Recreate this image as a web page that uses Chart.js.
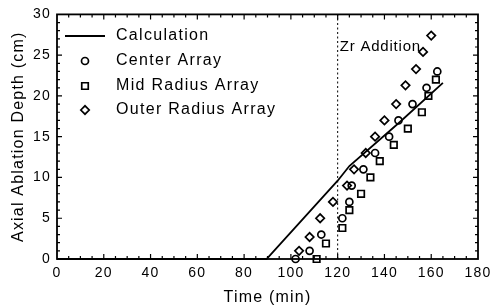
<!DOCTYPE html>
<html>
<head>
<meta charset="utf-8">
<script src="https://cdn.jsdelivr.net/npm/chart.js@4.4.1/dist/chart.umd.min.js"></script>
<style>
  html, body { margin: 0; padding: 0; background: #fff; }
  #wrap { width: 500px; height: 308px; }
</style>
</head>
<body>
<div id="wrap"><canvas id="chart"></canvas></div>
<script>
// Time (min) / depth (cm)
const calcTime = [0, 89.6, 120, 125, 146.6, 165];
const calcDepth = [0, 0, 9.6, 11.4, 16.8, 21.6];

const centerTime = [102, 108, 113, 122, 125, 126, 131, 136, 142, 146, 152, 158, 162.6];
const centerDepth = [0, 1, 3, 5, 7, 9, 11, 13, 15, 17, 19, 21, 23];

const midTime = [111, 115, 122, 125, 130, 134, 138, 144, 150, 156, 158.8, 162];
const midDepth = [0, 1.9, 3.8, 6, 8, 10, 12, 14, 16, 18, 20, 22];

const outerTime = [103.5, 108, 112.5, 118, 124, 127, 132, 136, 140, 145, 149, 153.5, 156.5, 160];
const outerDepth = [1, 2.7, 5, 7, 9, 11, 13, 15, 17, 19, 21.3, 23.3, 25.4, 27.4];

const xTicks = [0, 20, 40, 60, 80, 100, 120, 140, 160, 180];
const yTicks = [0, 5, 10, 15, 20, 25, 30];
const zrTime = 120;

const legendLabels = ['Calculation', 'Center Array', 'Mid Radius Array', 'Outer Radius Array'];
const zrLabel = 'Zr Addition';

const pts = (xs, ys) => xs.map((x, i) => ({ x: x, y: ys[i] }));

const FONT = '"Liberation Sans", Arial, sans-serif';

// draw a marker like chart.js does
function marker(ctx, style, r, x, y) {
  ctx.beginPath();
  if (style === 'circle') {
    ctx.arc(x, y, r, 0, Math.PI * 2);
  } else if (style === 'rect') {
    const s = Math.SQRT1_2 * r;
    ctx.rect(x - s, y - s, 2 * s, 2 * s);
  } else {
    ctx.moveTo(x - r, y);
    ctx.lineTo(x, y - r);
    ctx.lineTo(x + r, y);
    ctx.lineTo(x, y + r);
    ctx.closePath();
  }
  ctx.stroke();
}

const framePlugin = {
  id: 'frame',
  beforeDraw(chart) {
    chart.ctx.letterSpacing = '1.2px';
  },
  beforeDatasetsDraw(chart) {
    const ctx = chart.ctx;
    const a = chart.chartArea;
    const xs = chart.scales.x;
    ctx.save();
    ctx.strokeStyle = '#000';
    ctx.lineWidth = 1;
    ctx.setLineDash([2, 2.5]);
    const px = xs.getPixelForValue(zrTime);
    ctx.beginPath();
    ctx.moveTo(px, a.bottom);
    ctx.lineTo(px, a.top);
    ctx.stroke();
    ctx.restore();
  },
  afterDraw(chart) {
    const ctx = chart.ctx;
    const a = chart.chartArea;
    const xs = chart.scales.x, ys = chart.scales.y;
    ctx.save();
    ctx.strokeStyle = '#000';
    ctx.lineWidth = 1.8;
    ctx.strokeRect(a.left, a.top, a.right - a.left, a.bottom - a.top);

    // inward ticks on all four sides
    ctx.lineWidth = 1.2;
    ctx.beginPath();
    for (let v = 5; v < 180; v += 5) {
      const len = v % 20 === 0 ? 5 : 3;
      const p = xs.getPixelForValue(v);
      ctx.moveTo(p, a.bottom); ctx.lineTo(p, a.bottom - len);
      ctx.moveTo(p, a.top); ctx.lineTo(p, a.top + len);
    }
    for (let v = 1; v < 30; v += 1) {
      const len = v % 5 === 0 ? 5 : 3;
      const p = ys.getPixelForValue(v);
      ctx.moveTo(a.left, p); ctx.lineTo(a.left + len, p);
      ctx.moveTo(a.right, p); ctx.lineTo(a.right - len, p);
    }
    ctx.stroke();

    // legend
    ctx.fillStyle = '#000';
    ctx.textBaseline = 'middle';
    ctx.textAlign = 'left';
    ctx.font = '16px ' + FONT;
    ctx.letterSpacing = '1.3px';
    const rows = [36, 61, 86, 110];
    ctx.lineWidth = 1.8;
    ctx.beginPath();
    ctx.moveTo(65, rows[0]);
    ctx.lineTo(105, rows[0]);
    ctx.stroke();
    ctx.lineWidth = 1.7;
    marker(ctx, 'circle', 3.5, 85, rows[1]);
    marker(ctx, 'rect', 4.6, 85, rows[2]);
    marker(ctx, 'rectRot', 4.2, 85, rows[3]);
    legendLabels.forEach((t, i) => ctx.fillText(t, 116, rows[i]));

    ctx.font = '15px ' + FONT;
    ctx.letterSpacing = '0.8px';
    ctx.fillText(zrLabel, xs.getPixelForValue(zrTime) + 2, 47);
    ctx.restore();
  }
};

new Chart(document.getElementById('chart'), {
  type: 'scatter',
  data: {
    datasets: [
      {
        label: legendLabels[0],
        data: pts(calcTime, calcDepth),
        showLine: true,
        borderColor: '#000',
        borderWidth: 1.8,
        pointRadius: 0,
        clip: false
      },
      {
        label: legendLabels[1],
        data: pts(centerTime, centerDepth),
        pointStyle: 'circle',
        pointRadius: 3.5,
        borderColor: '#000',
        backgroundColor: 'rgba(0,0,0,0)',
        pointBorderWidth: 1.7,
        clip: false
      },
      {
        label: legendLabels[2],
        data: pts(midTime, midDepth),
        pointStyle: 'rect',
        pointRadius: 4.6,
        borderColor: '#000',
        backgroundColor: 'rgba(0,0,0,0)',
        pointBorderWidth: 1.7,
        clip: false
      },
      {
        label: legendLabels[3],
        data: pts(outerTime, outerDepth),
        pointStyle: 'rectRot',
        pointRadius: 4.2,
        borderColor: '#000',
        backgroundColor: 'rgba(0,0,0,0)',
        pointBorderWidth: 1.7,
        clip: false
      }
    ]
  },
  options: {
    responsive: true,
    maintainAspectRatio: false,
    animation: false,
    layout: { padding: { left: 0, right: 22, top: 11, bottom: 0 } },
    plugins: { legend: { display: false }, tooltip: { enabled: false } },
    scales: {
      x: {
        type: 'linear',
        min: 0,
        max: 180,
        afterFit: s => { s.height = 49; },
        afterBuildTicks: s => { s.ticks = xTicks.map(v => ({ value: v })); },
        grid: { display: false, drawTicks: false },
        border: { display: false },
        ticks: { padding: 6, color: '#000', font: { family: FONT, size: 14 } },
        title: {
          display: true,
          text: 'Time (min)',
          color: '#000',
          font: { family: FONT, size: 16 },
          padding: { top: 0, bottom: 1 }
        }
      },
      y: {
        type: 'linear',
        min: 0,
        max: 30,
        afterFit: s => { s.width = 57; },
        afterBuildTicks: s => { s.ticks = yTicks.map(v => ({ value: v })); },
        grid: { display: false, drawTicks: false },
        border: { display: false },
        ticks: { padding: 6, color: '#000', font: { family: FONT, size: 14 } },
        title: {
          display: true,
          text: 'Axial Ablation Depth (cm)',
          color: '#000',
          font: { family: FONT, size: 16 },
          padding: { top: 9, bottom: 0 }
        }
      }
    }
  },
  plugins: [framePlugin]
});
</script>
</body>
</html>
